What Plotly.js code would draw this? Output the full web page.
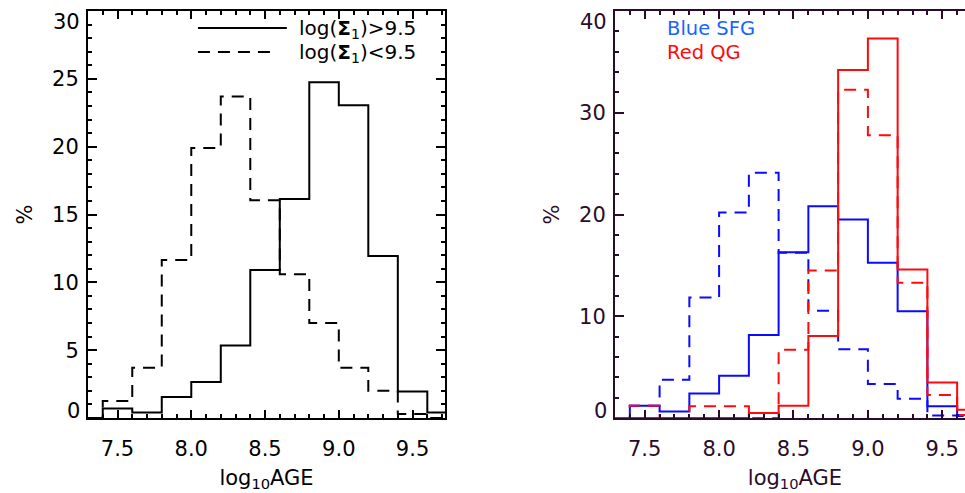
<!DOCTYPE html>
<html>
<head>
<meta charset="utf-8">
<script src="https://cdn.plot.ly/plotly-3.0.1.min.js"></script>
<style>
  html, body { margin: 0; padding: 0; background: #fff; overflow: hidden; }
  #chart { width: 975px; height: 493px; }
</style>
</head>
<body>
<div id="chart"></div>
<script>
// Left edges of the 0.2-dex age bins (log10 AGE)
const binLeft = [7.4, 7.6, 7.8, 8.0, 8.2, 8.4, 8.6, 8.8, 9.0, 9.2, 9.4, 9.6];
const binWidth = 0.2;

// Left panel: split by central surface density
const highSigma = [0.7, 0.4, 1.55, 2.65, 5.35, 10.9, 16.15, 24.75, 23.05, 11.95, 1.95, 0.4];
const lowSigma  = [1.25, 3.7, 11.65, 19.9, 23.7, 16.05, 10.6, 7.0, 3.7, 2.0, 0.3, 0.0];

// Right panel: split by colour class (solid = high density, dashed = low density)
const blueHigh = [1.2, 0.65, 2.4, 4.15, 8.15, 16.3, 20.8, 19.5, 15.25, 10.5, 1.15, 0.3];
const blueLow  = [1.2, 3.75, 11.85, 20.2, 24.1, 16.25, 10.55, 6.75, 3.35, 1.9, 0.25, 0.2];
const redHigh  = [0.0, 0.0, 0.0, 0.0, 0.5, 1.2, 8.05, 34.2, 37.3, 14.6, 3.5, 0.8];
const redLow   = [1.2, 0.0, 1.15, 1.15, 0.0, 6.7, 14.5, 32.25, 27.8, 13.3, 2.25, 0.3];

const legendLabels = ['log(<b>Σ</b><sub>1</sub>)>9.5', 'log(<b>Σ</b><sub>1</sub>)<9.5'];
const classLabels = ['Blue SFG', 'Red QG'];
const xTickVals = [7.5, 8.0, 8.5, 9.0, 9.5];
const xTickText = ['7.5', '8.0', '8.5', '9.0', '9.5'];
const yTicksLeft = [0, 5, 10, 15, 20, 25, 30];
const yTicksRight = [0, 10, 20, 30, 40];

const FONT = 'DejaVu Sans, Liberation Sans, sans-serif';
const FS = 21;
const INK_L = '#000000';
const INK_R = '#2a0c2a';
const BLUE = '#0a0aff';
const RED = '#ff0a0a';
const DASH = '12px,8px';

// Histogram outline as a step line starting on the baseline
function step(vals, xa, ya, color, dash) {
  const x = [binLeft[0] - binWidth].concat(binLeft, [binLeft[binLeft.length - 1] + binWidth]);
  const y = [0].concat(vals, [vals[vals.length - 1]]);
  return {
    type: 'scatter', mode: 'lines', x: x, y: y, xaxis: xa, yaxis: ya,
    line: { shape: 'hv', color: color, width: 2, dash: dash || 'solid' },
    hoverinfo: 'skip', showlegend: false
  };
}

const traces = [
  step(lowSigma, 'x', 'y', INK_L, DASH),
  step(highSigma, 'x', 'y', INK_L),
  step(blueHigh, 'x2', 'y2', BLUE),
  step(blueLow, 'x2', 'y2', BLUE, DASH),
  step(redHigh, 'x2', 'y2', RED),
  step(redLow, 'x2', 'y2', RED, DASH)
];

function xAxis(domain, ink, anchor) {
  return {
    domain: domain, anchor: anchor, range: [7.3, 9.72],
    showgrid: false, zeroline: false,
    showline: true, linecolor: ink, linewidth: 2, mirror: 'ticks',
    ticks: 'inside', ticklen: 8, tickwidth: 2, tickcolor: ink,
    tickmode: 'array', tickvals: xTickVals, ticktext: xTickText,
    minor: { dtick: 0.1, tick0: 7.3, ticks: 'inside', ticklen: 4, tickwidth: 2, tickcolor: ink },
    ticklabelstandoff: 11,
    tickfont: { family: FONT, size: FS, color: ink },
    title: { text: 'log<sub>10</sub>AGE', font: { family: FONT, size: FS, color: ink }, standoff: 10 }
  };
}

// Interior labels come from the axis; the end labels sit on the frame and are nudged inside it
function yAxis(domain, ink, anchor, ticks, minor) {
  const top = ticks[ticks.length - 1];
  const inner = ticks.slice(1, -1);
  return {
    domain: domain, anchor: anchor, range: [0, top],
    showgrid: false, zeroline: false,
    showline: true, linecolor: ink, linewidth: 2, mirror: 'ticks',
    ticks: 'inside', ticklen: 9, tickwidth: 2, tickcolor: ink,
    tickmode: 'array', tickvals: inner, ticktext: inner.map(String),
    minor: { dtick: minor, tick0: 0, ticks: 'inside', ticklen: 4, tickwidth: 2, tickcolor: ink },
    ticklabelstandoff: 3,
    tickfont: { family: FONT, size: FS, color: ink },
    title: { text: '%', font: { family: FONT, size: FS, color: ink }, standoff: 14 }
  };
}

function endLabels(ticks, xref, yref, ink) {
  const first = ticks[0], last = ticks[ticks.length - 1];
  return [
    { xref: xref + ' domain', yref: yref, x: 0, y: first, xanchor: 'right', yanchor: 'middle',
      xshift: -6, yshift: 7, text: String(first), showarrow: false,
      font: { family: FONT, size: FS, color: ink } },
    { xref: xref + ' domain', yref: yref, x: 0, y: last, xanchor: 'right', yanchor: 'middle',
      xshift: -6, yshift: -11, text: String(last), showarrow: false,
      font: { family: FONT, size: FS, color: ink } }
  ];
}

const layout = {
  width: 975, height: 493,
  margin: { l: 88, r: 0, t: 11, b: 75 },
  paper_bgcolor: '#ffffff', plot_bgcolor: '#ffffff',
  showlegend: false,
  xaxis: xAxis([0, 0.4025], INK_L, 'y'),
  yaxis: yAxis([0, 1], INK_L, 'x', yTicksLeft, 1),
  xaxis2: xAxis([0.5941, 1], INK_R, 'y2'),
  yaxis2: yAxis([0, 1], INK_R, 'x2', yTicksRight, 2),
  shapes: [
    { type: 'line', xref: 'x domain', yref: 'y domain', x0: 0.308, x1: 0.557, y0: 0.958, y1: 0.958,
      line: { color: INK_L, width: 2 } },
    { type: 'line', xref: 'x domain', yref: 'y domain', x0: 0.308, x1: 0.52, y0: 0.899, y1: 0.899,
      line: { color: INK_L, width: 2, dash: DASH } }
  ],
  annotations: [
    { xref: 'x domain', yref: 'y domain', x: 0.585, y: 0.955, xanchor: 'left', yanchor: 'middle',
      text: legendLabels[0], showarrow: false, font: { family: FONT, size: 20, color: INK_L } },
    { xref: 'x domain', yref: 'y domain', x: 0.585, y: 0.896, xanchor: 'left', yanchor: 'middle',
      text: legendLabels[1], showarrow: false, font: { family: FONT, size: 20, color: INK_L } },
    { xref: 'x2 domain', yref: 'y2 domain', x: 0.14, y: 0.958, xanchor: 'left', yanchor: 'middle',
      text: classLabels[0], showarrow: false, font: { family: FONT, size: 19.5, color: '#1864ff' } },
    { xref: 'x2 domain', yref: 'y2 domain', x: 0.14, y: 0.899, xanchor: 'left', yanchor: 'middle',
      text: classLabels[1], showarrow: false, font: { family: FONT, size: 19.5, color: '#ff0a0a' } }
  ].concat(endLabels(yTicksLeft, 'x', 'y', INK_L), endLabels(yTicksRight, 'x2', 'y2', INK_R))
};

Plotly.newPlot('chart', traces, layout, { staticPlot: true, displayModeBar: false });
</script>
</body>
</html>
